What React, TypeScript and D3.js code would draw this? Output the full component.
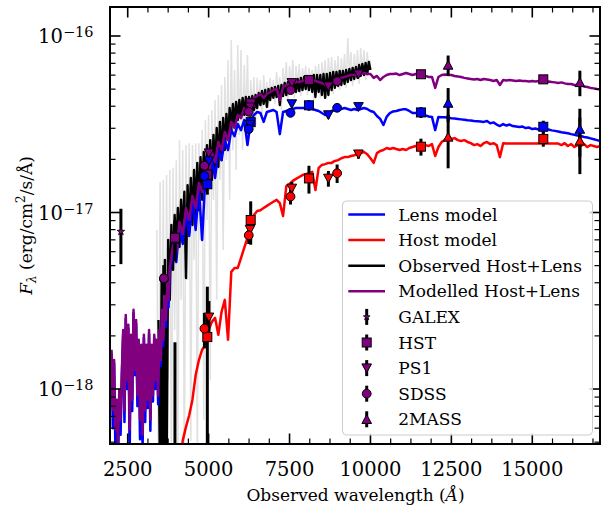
import React from "react";
import * as d3 from "d3";

// Flux values below are in units of 1e-17 erg/cm^2/s/Å
const FLUX_UNIT = 1e-17;

// Model spectra: UV part sampled every 40 Å from 2000 Å, the rest every 100 Å from 3800 Å
const MODEL_UV_START = 2000;
const MODEL_UV_STEP = 40;
const MODEL_START = 3800;
const MODEL_STEP = 100;

const lensModelUV = [
  0.160, 0.060, 0.140, 0.045, 0.080, 0.035, 0.095, 0.055, 0.120, 0.205,
  0.065, 0.250, 0.100, 0.220, 0.042, 0.195, 0.075, 0.270, 0.120, 0.235,
  0.080, 0.180, 0.052, 0.170, 0.045, 0.195, 0.065, 0.170, 0.078, 0.205,
  0.058, 0.170, 0.085, 0.195, 0.100, 0.180, 0.082, 0.205, 0.135, 0.265,
  0.175, 0.320, 0.225, 0.385, 0.290,
];

const lensModel = [
  0.460, 0.597, 0.524, 0.839, 0.664, 1.01, 0.736, 1.18, 0.796, 1.38,
  0.699, 1.61, 1.38, 1.98, 1.57, 2.26, 1.98, 2.57, 2.26, 2.93,
  2.71, 3.17, 2.93, 3.34, 2.41, 3.30, 3.57, 3.71, 3.66, 3.26,
  3.71, 3.76, 3.81, 3.71, 2.78, 3.71, 3.76, 3.81, 3.86, 3.91,
  3.91, 3.91, 3.91, 3.91, 3.86, 3.81, 3.76, 3.66, 3.57, 3.62,
  3.76, 3.81, 3.86, 3.86, 3.91, 3.86, 3.81, 3.86, 3.81, 3.86,
  3.91, 3.86, 3.76, 3.71, 3.52, 3.39, 3.13, 3.48, 3.66, 3.74,
  3.76, 3.81, 3.84, 3.84, 3.76, 3.66, 3.66, 3.64, 3.59, 3.55,
  3.50, 3.48, 2.93, 3.48, 3.47, 3.46, 3.44, 3.42, 3.41, 3.39,
  3.37, 3.35, 3.33, 3.32, 3.30, 3.29, 3.28, 3.26, 3.30, 3.20,
  3.24, 3.15, 3.09, 3.17, 3.11, 3.15, 3.09, 3.07, 3.05, 3.07,
  3.01, 3.03, 2.97, 2.99, 2.95, 2.99, 2.97, 2.95, 2.92, 2.90,
  2.88, 2.85, 2.83, 2.81, 2.78, 2.76, 2.73, 2.71, 2.68, 2.66,
  2.63, 2.60, 2.57, 2.54, 2.52,
];

const totalModelUV = [
  0.167, 0.076, 0.146, 0.059, 0.087, 0.048, 0.099, 0.067, 0.128, 0.216,
  0.076, 0.263, 0.112, 0.231, 0.059, 0.203, 0.087, 0.281, 0.128, 0.246,
  0.092, 0.190, 0.067, 0.178, 0.055, 0.203, 0.076, 0.178, 0.087, 0.216,
  0.067, 0.178, 0.092, 0.203, 0.112, 0.190, 0.092, 0.216, 0.146, 0.281,
  0.190, 0.341, 0.246, 0.415, 0.320,
];

const totalModel = [
  0.485, 0.655, 0.596, 0.884, 0.756, 1.06, 0.907, 1.24, 1.06, 1.47,
  1.31, 1.79, 1.61, 2.20, 1.93, 2.51, 2.26, 2.86, 2.57, 3.26,
  3.01, 3.57, 3.43, 3.91, 3.71, 4.17, 4.46, 4.57, 4.69, 4.46,
  4.69, 4.82, 4.94, 5.01, 4.34, 5.14, 5.28, 5.35, 5.42, 5.49,
  5.49, 5.56, 5.63, 5.63, 5.63, 5.56, 5.49, 5.42, 5.28, 5.28,
  5.42, 5.56, 5.71, 5.79, 5.86, 5.94, 6.01, 6.01, 6.09, 6.09,
  6.17, 6.09, 6.09, 5.79, 5.94, 5.63, 5.86, 6.01, 6.09, 6.09,
  6.13, 6.01, 6.09, 6.17, 6.09, 6.01, 6.09, 6.01, 6.01, 5.94,
  5.86, 5.86, 5.08, 5.86, 6.01, 6.05, 6.01, 6.01, 5.94, 5.90,
  5.86, 5.79, 5.75, 5.71, 5.67, 5.71, 5.63, 5.71, 5.67, 5.63,
  5.56, 5.63, 5.28, 5.63, 5.60, 5.63, 5.60, 5.56, 5.60, 5.56,
  5.56, 5.53, 5.56, 5.53, 5.56, 5.53, 5.49, 5.53, 5.49, 5.46,
  5.42, 5.46, 5.39, 5.35, 5.35, 5.28, 5.28, 5.25, 5.18, 5.14,
  5.08, 5.05, 5.01, 4.98, 4.94,
];

const hostModel = [
  0.006, 0.009, 0.013, 0.036, 0.051, 0.061, 0.071, 0.087, 0.120, 0.146,
  0.167, 0.178, 0.216, 0.240, 0.253, 0.203, 0.274, 0.320, 0.190, 0.461,
  0.485, 0.485, 0.552, 0.630, 0.717, 0.884, 0.968, 1.02, 1.03, 1.06,
  1.09, 1.12, 1.15, 1.18, 1.13, 0.955, 1.41, 1.45, 1.51, 1.55,
  1.59, 1.63, 1.65, 1.67, 1.70, 1.34, 1.79, 1.86, 1.88, 1.91,
  1.91, 1.96, 1.98, 2.03, 2.06, 2.06, 2.09, 2.11, 2.14, 2.17,
  2.20, 2.14, 2.03, 1.91, 2.17, 2.23, 2.26, 2.32, 2.29, 2.32,
  2.29, 2.26, 2.29, 2.26, 2.32, 2.35, 2.38, 2.35, 2.38, 2.41,
  2.38, 2.44, 2.09, 2.35, 2.51, 2.57, 2.64, 2.61, 2.64, 2.57,
  2.54, 2.57, 2.51, 2.47, 2.41, 2.44, 2.38, 2.47, 2.51, 2.44,
  2.47, 2.41, 2.06, 2.47, 2.46, 2.46, 2.46, 2.46, 2.46, 2.46,
  2.46, 2.46, 2.46, 2.46, 2.46, 2.46, 2.46, 2.46, 2.46, 2.46,
  2.46, 2.41, 2.47, 2.38, 2.44, 2.35, 2.41, 2.38, 2.44, 2.35,
  2.41, 2.38, 2.35, 2.38, 2.38,
];

// Observed (combined) spectrum, every 50 Å from 3450 Å
const OBS_START = 3450;
const OBS_STEP = 50;
const observedSpectrum = [
  0.246, 0.030, 0.443, 0.020, 0.538, 0.025, 0.699, 0.320, 0.850, 0.473,
  0.968, 0.613, 1.06, 0.638, 1.18, 0.699, 1.31, 0.425, 1.43, 0.766,
  1.57, 0.850, 1.74, 0.968, 1.91, 1.03, 2.06, 1.18, 2.20, 1.34,
  2.41, 1.39, 2.57, 1.53, 2.75, 1.70, 3.01, 1.81, 3.26, 1.98,
  3.43, 2.26, 3.62, 2.57, 3.91, 2.93, 4.12, 3.13, 4.23, 3.34,
  4.34, 3.43, 4.46, 3.57, 4.51, 3.62, 4.51, 3.57, 4.57, 3.81,
  4.63, 3.91, 4.75, 4.06, 4.88, 4.12, 4.94, 3.96, 5.01, 4.34,
  5.08, 4.46, 5.14, 4.51, 5.21, 4.06, 5.28, 4.57, 5.42, 4.63,
  5.49, 4.75, 5.56, 4.82, 5.63, 4.82, 5.71, 4.88, 5.79, 4.94,
  5.86, 5.01, 5.94, 4.94, 5.94, 4.82, 6.01, 4.51, 6.01, 4.82,
  6.01, 4.63, 6.09, 4.46, 6.09, 4.63, 6.17, 4.94, 6.26, 5.08,
  6.26, 5.21, 6.34, 5.28, 6.34, 5.35, 6.42, 5.49, 6.50, 5.63,
  6.59, 5.71, 6.67, 5.79, 6.85, 5.94, 6.94, 6.01, 7.03, 6.09,
  7.12, 6.42,
];

// Unbinned raw spectrum, every 50 Å from 3400 Å
const RAW_START = 3400;
const RAW_STEP = 50;
const rawSpectrum = [
  0.796, 0.030, 1.49, 0.087, 1.53, 0.025, 1.63, 0.112, 1.74, 0.030,
  1.79, 0.216, 1.98, 0.030, 2.57, 0.320, 2.26, 0.035, 2.41, 0.415,
  2.47, 0.051, 2.41, 0.538, 2.47, 0.035, 2.47, 0.699, 2.93, 0.067,
  3.34, 0.907, 3.57, 0.112, 3.81, 1.18, 4.34, 0.320, 4.63, 1.53,
  5.28, 0.613, 5.86, 1.98, 7.31, 1.18, 9.48, 2.26, 6.42, 1.74,
  8.89, 2.75, 8.33, 2.26, 6.85, 3.13, 7.81, 2.57, 5.63, 3.81,
  5.86, 3.13, 5.79, 4.06, 5.63, 3.57, 6.01, 4.34, 5.49, 3.91,
  5.79, 4.63, 5.63, 4.12, 6.26, 4.82, 5.86, 3.81, 6.59, 4.94,
  7.12, 4.34, 6.76, 5.08, 7.31, 4.46, 6.76, 5.21, 6.94, 4.57,
  6.59, 5.35, 6.76, 4.63, 6.59, 5.49, 6.42, 4.34, 6.76, 5.28,
  6.94, 4.46, 7.12, 5.35, 7.31, 4.57, 7.51, 5.49, 7.60, 4.69,
  7.31, 5.63, 7.70, 4.94, 7.51, 5.79, 7.91, 5.08, 9.74, 5.94,
  8.12, 5.21, 7.91, 6.09, 8.33, 5.35, 8.55, 6.26, 8.33, 5.63,
  8.12, 6.42, 7.31,
];

// Photometry: effective wavelength (Å), total / lens / host flux, 1-sigma error
const galexWave = [2290];
const galexTotal = [0.78];
const galexLens: (number | null)[] = [null];
const galexHost: (number | null)[] = [null];
const galexErr = [0.27];

const hstWave = [3960, 4960, 6300, 8100, 11560, 15340];
const hstTotal = [0.72, 1.64, 4.16, 5.63, 6.07, 5.68];
const hstLens = [0.71, 1.445, 3.25, 4.05, 3.69, 3.06];
const hstHost = [0.004, 0.197, 0.907, 1.56, 2.36, 2.61];
const hstErr = [0.18, 0.183, 0.25, 0.28, 0.26, 0.25];

const ps1Wave = [5010, 6280, 7570, 8700, 9630];
const ps1Total = [2.17, 3.95, 5.43, 5.2, 6.09];
const ps1Lens = [1.96, 3.15, 4.12, 3.57, 3.97];
const ps1Host = [0.255, 0.8, 1.37, 1.56, 2.14];
const ps1Err = [0.06, 0.1, 0.12, 0.16, 0.12];

const sdssWave = [3620, 4870, 6240, 7530, 8970];
const sdssTotal = [0.424, 1.84, 3.72, 4.94, 5.55];
const sdssLens = [0.42, 1.61, 2.97, 3.67, 3.92];
const sdssHost = [0.004, 0.22, 0.743, 1.23, 1.67];
const sdssErr = [0.08, 0.05, 0.08, 0.12, 0.2];

const tmassWave = [12400, 16470];
const tmassTotal = [6.85, 5.46];
const tmassLens = [4.17, 2.97];
const tmassHost = [2.68, 2.55];
const tmassErr = [0.9, 0.9];

const X_TICKS = [2500, 5000, 7500, 10000, 12500, 15000];

const COLORS = {
  lens: "#0000ff",
  host: "#ff0000",
  total: "#800080",
  observed: "#000000",
  raw: "#e1e1e1",
};

type Pt = [number, number];
type Shape = "star" | "square" | "down" | "circle" | "up";

const sampled = (start: number, step: number, vals: number[]): Pt[] =>
  vals.map((f, i) => [start + i * step, f] as Pt);

const surveys: {
  name: string;
  shape: Shape;
  wave: number[];
  total: (number | null)[];
  lens: (number | null)[];
  host: (number | null)[];
  err: number[];
}[] = [
  { name: "GALEX", shape: "star", wave: galexWave, total: galexTotal, lens: galexLens, host: galexHost, err: galexErr },
  { name: "HST", shape: "square", wave: hstWave, total: hstTotal, lens: hstLens, host: hstHost, err: hstErr },
  { name: "PS1", shape: "down", wave: ps1Wave, total: ps1Total, lens: ps1Lens, host: ps1Host, err: ps1Err },
  { name: "SDSS", shape: "circle", wave: sdssWave, total: sdssTotal, lens: sdssLens, host: sdssHost, err: sdssErr },
  { name: "2MASS", shape: "up", wave: tmassWave, total: tmassTotal, lens: tmassLens, host: tmassHost, err: tmassErr },
];

const FONT = "DejaVu Serif";

function Marker({ shape, cx, cy, fill, small }: { shape: Shape; cx: number; cy: number; fill: string; small?: boolean }) {
  const common = { fill, stroke: "#000", strokeWidth: 1 };
  switch (shape) {
    case "square":
      return <rect x={cx - 4.5} y={cy - 4.5} width={9} height={9} {...common} />;
    case "circle":
      return <circle cx={cx} cy={cy} r={4.4} {...common} />;
    case "down":
      return <path d={`M${cx - 4.8},${cy - 4.2}L${cx + 4.8},${cy - 4.2}L${cx},${cy + 4.6}Z`} {...common} />;
    case "up":
      return <path d={`M${cx},${cy - 4.6}L${cx + 4.8},${cy + 4.2}L${cx - 4.8},${cy + 4.2}Z`} {...common} />;
    case "star":
    default:
      return (
        <path
          transform={`translate(${cx},${cy})`}
          d={d3.symbol(d3.symbolStar, small ? 14 : 18)() as string}
          {...common}
          strokeWidth={0.8}
        />
      );
  }
}

export default function App() {
  const L = 110, R = 600, T = 7, B = 444;

  const x = d3.scaleLinear().domain([1953, 17092]).range([L, R]);
  const y = d3.scaleLog().domain([4.881e-19, 1.4597e-16]).range([B, T]);
  const fy = (f: number) => y(Math.max(f, 1e-4) * FLUX_UNIT);

  const line = d3
    .line<Pt>()
    .x((d) => x(d[0]))
    .y((d) => fy(d[1]));

  const lensPts = [
    ...sampled(MODEL_UV_START, MODEL_UV_STEP, lensModelUV),
    ...sampled(MODEL_START, MODEL_STEP, lensModel),
  ];
  const totalPts = [
    ...sampled(MODEL_UV_START, MODEL_UV_STEP, totalModelUV),
    ...sampled(MODEL_START, MODEL_STEP, totalModel),
  ];
  const hostPts = sampled(MODEL_START, MODEL_STEP, hostModel);
  const obsPts = sampled(OBS_START, OBS_STEP, observedSpectrum);
  const rawPts = sampled(RAW_START, RAW_STEP, rawSpectrum);

  // lens and host photometry first, the combined values on top
  const comps: { key: "total" | "lens" | "host"; color: string }[] = [
    { key: "lens", color: COLORS.lens },
    { key: "host", color: COLORS.host },
    { key: "total", color: COLORS.total },
  ];

  const errorBars: JSX.Element[] = [];
  const markers: JSX.Element[] = [];
  surveys.forEach((s) => {
    s.wave.forEach((w, i) => {
      comps.forEach((c) => {
        const v = s[c.key][i];
        if (v == null) return;
        const e = s.err[i];
        const cx = x(w);
        const yTop = fy(v + e);
        const yBot = v - e > 0 ? fy(v - e) : B + 50;
        errorBars.push(
          <line key={`eb-${s.name}-${i}-${c.key}`} x1={cx} x2={cx} y1={yTop} y2={yBot} stroke="#000" strokeWidth={3} />
        );
        markers.push(<Marker key={`mk-${s.name}-${i}-${c.key}`} shape={s.shape} cx={cx} cy={fy(v)} fill={c.color} />);
      });
    });
  });

  const xMinor = d3.range(0, 17500, 625).filter((v) => v >= 1953 && v <= 17092 && v % 2500 !== 0);
  const yTicks = y.ticks();
  const isMajorY = (v: number) => Math.abs(Math.log10(v) - Math.round(Math.log10(v))) < 1e-6;

  const legendLines = [
    { label: "Lens model", color: COLORS.lens },
    { label: "Host model", color: COLORS.host },
    { label: "Observed Host+Lens", color: COLORS.observed },
    { label: "Modelled Host+Lens", color: COLORS.total },
  ];
  const legendRow0 = 214.5;
  const legendStep = 25.6;

  return (
    <div style={{ position: "absolute", left: 0, top: 0, width: 601, height: 505, background: "#fff" }}>
      <svg width={601} height={505} style={{ display: "block" }} fontFamily={FONT}>
        <defs>
          <clipPath id="plot-clip">
            <rect x={L} y={T} width={R - L} height={B - T} />
          </clipPath>
        </defs>

        <g clipPath="url(#plot-clip)">
          <path d={line(rawPts) as string} fill="none" stroke={COLORS.raw} strokeWidth={1.5} />
          <path d={line(obsPts) as string} fill="none" stroke={COLORS.observed} strokeWidth={2.4} strokeLinejoin="round" />
          <path d={line(lensPts) as string} fill="none" stroke={COLORS.lens} strokeWidth={2.5} strokeLinejoin="round" />
          <path d={line(hostPts) as string} fill="none" stroke={COLORS.host} strokeWidth={2.5} strokeLinejoin="round" />
          <path d={line(totalPts) as string} fill="none" stroke={COLORS.total} strokeWidth={2.5} strokeLinejoin="round" />
          {errorBars}
          {markers}
        </g>

        {/* x ticks (bottom and top, pointing inward) */}
        {X_TICKS.map((t) => (
          <g key={`xt-${t}`}>
            <line x1={x(t)} x2={x(t)} y1={B} y2={B - 10.5} stroke="#000" strokeWidth={1.6} />
            <line x1={x(t)} x2={x(t)} y1={T} y2={T + 10.5} stroke="#000" strokeWidth={1.6} />
            <text x={x(t)} y={476} textAnchor="middle" fontSize={19.5}>
              {t}
            </text>
          </g>
        ))}
        {xMinor.map((t) => (
          <g key={`xm-${t}`}>
            <line x1={x(t)} x2={x(t)} y1={B} y2={B - 5.5} stroke="#000" strokeWidth={1.2} />
            <line x1={x(t)} x2={x(t)} y1={T} y2={T + 5.5} stroke="#000" strokeWidth={1.2} />
          </g>
        ))}

        {/* y ticks (left and right, pointing inward) */}
        {yTicks.map((t) => {
          const yy = y(t);
          const major = isMajorY(t);
          const len = major ? 10.5 : 5.5;
          const sw = major ? 1.6 : 1.2;
          return (
            <g key={`yt-${t}`}>
              <line x1={L} x2={L + len} y1={yy} y2={yy} stroke="#000" strokeWidth={sw} />
              <line x1={R} x2={R - len} y1={yy} y2={yy} stroke="#000" strokeWidth={sw} />
              {major && (
                <text x={93.5} y={yy + 7.3} textAnchor="end" fontSize={19.5}>
                  <tspan>10</tspan>
                  <tspan fontSize={14.5} dy={-6}>
                    {`\u2212${Math.abs(Math.round(Math.log10(t)))}`}
                  </tspan>
                </text>
              )}
            </g>
          );
        })}

        <rect x={L} y={T} width={R - L} height={B - T} fill="none" stroke="#000" strokeWidth={2} />

        {/* axis labels */}
        <text x={355.5} y={501} textAnchor="middle" fontSize={17} style={{ whiteSpace: "pre" }}>
          <tspan>Observed wavelength (</tspan>
          <tspan fontStyle="italic">Å</tspan>
          <tspan>)</tspan>
        </text>
        <text transform="translate(32,225.5) rotate(-90)" textAnchor="middle" fontSize={17} style={{ whiteSpace: "pre" }}>
          <tspan fontStyle="italic">F</tspan>
          <tspan fontStyle="italic" fontSize={12} dy={4}>λ</tspan>
          <tspan dy={-4}> (erg/cm</tspan>
          <tspan fontSize={12} dy={-7}>2</tspan>
          <tspan dy={7}>/s/Å)</tspan>
        </text>

        {/* legend */}
        <g>
          <rect x={342.5} y={201} width={250} height={234} rx={4} fill="#fff" fillOpacity={0.8} stroke="#cccccc" strokeWidth={1} />
          {legendLines.map((d, i) => {
            const yy = legendRow0 + i * legendStep;
            return (
              <g key={`ll-${d.label}`}>
                <line x1={348.3} x2={385} y1={yy} y2={yy} stroke={d.color} strokeWidth={2.5} />
                <text x={398.3} y={yy + 6} fontSize={17}>
                  {d.label}
                </text>
              </g>
            );
          })}
          {surveys.map((s, i) => {
            const yy = legendRow0 + (i + 4) * legendStep;
            return (
              <g key={`lm-${s.name}`}>
                <line x1={366.7} x2={366.7} y1={yy - 8} y2={yy + 8} stroke="#000" strokeWidth={3} />
                <Marker shape={s.shape} cx={366.7} cy={yy} fill={COLORS.total} small />
                <text x={398.3} y={yy + 6} fontSize={17}>
                  {s.name}
                </text>
              </g>
            );
          })}
        </g>
      </svg>
    </div>
  );
}
